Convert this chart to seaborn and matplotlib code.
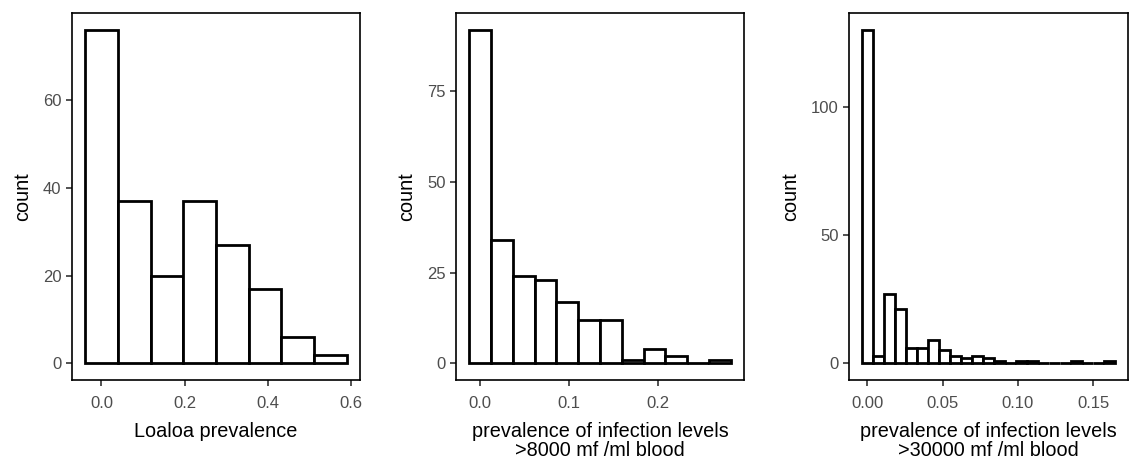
import numpy as np
import pandas as pd
import matplotlib
matplotlib.use("Agg")
import matplotlib.pyplot as plt
import seaborn as sns

# Histogram counts per bin; bins are centred on 0 and evenly spaced up to the maximum value
loa_counts = [76, 37, 20, 37, 27, 17, 6, 2]
loa_max = 0.55

p8000_counts = [92, 34, 24, 23, 17, 12, 12, 1, 4, 2, 0, 1]
p8000_max = 0.27

p30000_counts = [130, 3, 27, 21, 6, 6, 9, 5, 3, 2, 3, 2, 1, 0, 1, 1, 0, 0, 0, 1, 0, 0, 1]
p30000_max = 0.161

loa_xticks = [0.0, 0.2, 0.4, 0.6]
loa_xlabels = ["0.0", "0.2", "0.4", "0.6"]
loa_yticks = [0, 20, 40, 60]

p8000_xticks = [0.0, 0.1, 0.2]
p8000_xlabels = ["0.0", "0.1", "0.2"]
p8000_yticks = [0, 25, 50, 75]

p30000_xticks = [0.00, 0.05, 0.10, 0.15]
p30000_xlabels = ["0.00", "0.05", "0.10", "0.15"]
p30000_yticks = [0, 50, 100]

xlabels = [
    "Loaloa prevalence",
    "prevalence of infection levels\n>8000 mf /ml blood",
    "prevalence of infection levels\n>30000 mf /ml blood",
]

sns.set_theme(style="white")
plt.rcParams["font.family"] = ["Liberation Sans", "DejaVu Sans"]

W, H = 1134, 462
fig = plt.figure(figsize=(W / 100, H / 100), dpi=100)
fig.patch.set_facecolor("white")

# axes boxes in pixels: (left, top, right, bottom)
boxes = [(72, 13, 360, 380), (456, 13, 744, 380), (849, 13, 1128, 380)]

panels = [
    (loa_counts, loa_max, loa_xticks, loa_xlabels, loa_yticks),
    (p8000_counts, p8000_max, p8000_xticks, p8000_xlabels, p8000_yticks),
    (p30000_counts, p30000_max, p30000_xticks, p30000_xlabels, p30000_yticks),
]

for (l, t, r, b), (counts, vmax, xt, xtl, yt), xlab in zip(boxes, panels, xlabels):
    ax = fig.add_axes([l / W, (H - b) / H, (r - l) / W, (b - t) / H])
    counts = np.asarray(counts, dtype=float)
    n = len(counts)
    width = vmax / (n - 1)
    centers = np.arange(n) * width
    lo, hi = centers[0] - width / 2, centers[-1] + width / 2
    df = pd.DataFrame({"value": centers, "count": counts})

    sns.histplot(data=df, x="value", weights="count", bins=n, binrange=(lo, hi),
                 ax=ax, color="white", edgecolor="black", linewidth=2.0, alpha=1)

    span = hi - lo
    ax.set_xlim(lo - 0.05 * span, hi + 0.05 * span)
    ymax = counts.max()
    ax.set_ylim(-0.05 * ymax, 1.05 * ymax)

    ax.set_xticks(xt)
    ax.set_xticklabels(xtl)
    ax.set_yticks(yt)
    ax.set_yticklabels([str(v) for v in yt])

    ax.tick_params(axis="both", which="major", length=4.5, width=1.2,
                   color="#333333", labelcolor="#4D4D4D", labelsize=12,
                   direction="out", bottom=True, left=True)
    ax.tick_params(axis="x", pad=7)
    ax.tick_params(axis="y", pad=3)

    for sp in ax.spines.values():
        sp.set_visible(True)
        sp.set_color("black")
        sp.set_linewidth(1.2)

    ax.set_xlabel(xlab, fontsize=14.3, color="black", labelpad=8, linespacing=1.02)
    ax.set_ylabel("count", fontsize=14.3, color="black", labelpad=8)
    ax.grid(False)
    ax.set_facecolor("white")

fig.savefig("out.png", dpi=100, facecolor="white")
